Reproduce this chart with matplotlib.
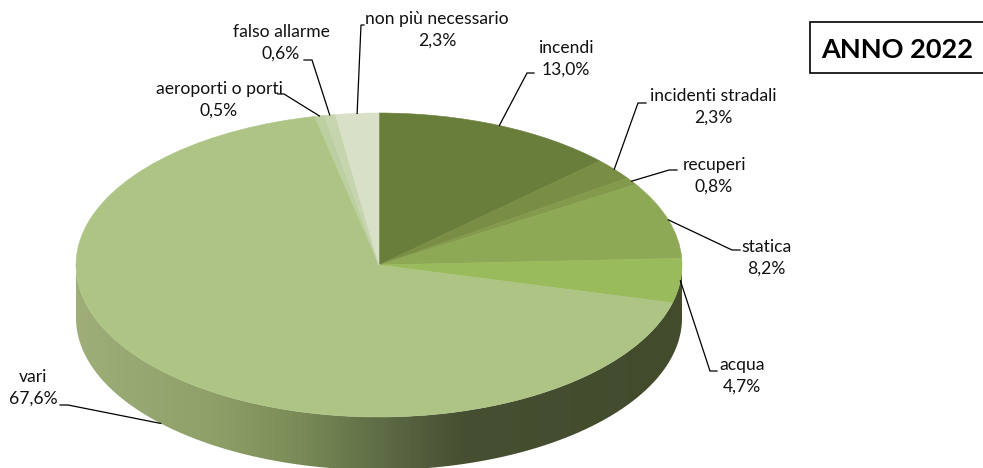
import numpy as np
import matplotlib
matplotlib.use('Agg')
import matplotlib.pyplot as plt
from matplotlib.patches import Polygon, Rectangle
from matplotlib.colors import LinearSegmentedColormap

plt.rcParams['font.family'] = ['Lato', 'DejaVu Sans']

# Data
categories = ['incendi', 'incidenti stradali', 'recuperi', 'statica', 'acqua', 'vari',
              'aeroporti o porti', 'falso allarme', 'non più necessario']
values = [13.0, 2.3, 0.8, 8.2, 4.7, 67.6, 0.5, 0.6, 2.3]
value_labels = ['13,0%', '2,3%', '0,8%', '8,2%', '4,7%', '67,6%', '0,5%', '0,6%', '2,3%']
colors = ['#6a7e3b', '#7a8d45', '#83994b', '#8ea956', '#9abb5b', '#adc485',
          '#bbcfa0', '#c6d5ae', '#d8e1c8']

# Label placement in pixels (text centre, elbow of leader, end of leader)
label_x = [566, 713, 714, 766, 742, 33, 219, 281, 437]
label_y = [59, 107, 176, 258, 376, 388, 100, 43, 30]
elbow_x = [527, 638, 669, 732, 710, 68, 284, 312, 361]
elbow_y = [73, 103, 170, 250, 371, 405, 94, 60, 25]
end_x = [534, 646, 677, 740, 717, 60, 278, 304, 364]
end_y = [73, 103, 170, 250, 371, 405, 94, 60, 25]

# Pie geometry in pixels
W, H = 983, 468
cx, cy = 379, 265
rx, ry = 303, 152
depth = 53

fig = plt.figure(figsize=(W / 100, H / 100), dpi=100)

# Base axes, works in image pixels
ax = fig.add_axes([0, 0, 1, 1], zorder=1)
ax.set_xlim(0, W)
ax.set_ylim(H, 0)
ax.axis('off')

# Side wall of the disc, with the horizontal shading
t = np.linspace(np.pi, 0, 300)
xs = cx + rx * np.cos(t)
ys = cy + ry * np.sin(t)
wall = np.column_stack([np.r_[xs, xs[::-1]], np.r_[ys + depth, ys[::-1]]])
clip = Polygon(wall, closed=True, transform=ax.transData, facecolor='none', edgecolor='none')
ax.add_patch(clip)
shade = LinearSegmentedColormap.from_list('wall', [
    (0.00, '#9fae79'), (0.22, '#8fa069'), (0.35, '#7d8e5a'), (0.44, '#6b7b4d'),
    (0.55, '#566140'), (0.64, '#464f31'), (1.00, '#434b2d')])
im = ax.imshow(np.linspace(0, 1, 400).reshape(1, -1), cmap=shade, aspect='auto',
               extent=(cx - rx, cx + rx, cy + ry + depth, cy), zorder=1)
im.set_clip_path(clip)
ax.set_xlim(0, W)
ax.set_ylim(H, 0)

# Top of the disc: a normal pie stretched into an ellipse
ax_pie = fig.add_axes([(cx - rx) / W, 1 - (cy + ry) / H, 2 * rx / W, 2 * ry / H], zorder=2)
wedges, _ = ax_pie.pie(values, colors=colors, startangle=90, counterclock=False, radius=1)
for w in wedges:
    w.set_edgecolor(w.get_facecolor())
    w.set_linewidth(0.4)
ax_pie.set_aspect('auto')
ax_pie.set_xlim(-1, 1)
ax_pie.set_ylim(-1, 1)
ax_pie.patch.set_alpha(0)

# Text and leader lines go above everything
ax_top = fig.add_axes([0, 0, 1, 1], zorder=3)
ax_top.set_xlim(0, W)
ax_top.set_ylim(H, 0)
ax_top.axis('off')

cum = np.cumsum(values)
for i, name in enumerate(categories):
    mid = np.radians((cum[i] - values[i] / 2) * 3.6)
    ax_x = cx + rx * np.sin(mid)
    ax_y = cy - ry * np.cos(mid)
    if name == 'vari':
        ax_y += depth   # this one starts from the lower rim
    ax_top.plot([ax_x, elbow_x[i], end_x[i]], [ax_y, elbow_y[i], end_y[i]],
                color='black', lw=0.9, solid_joinstyle='miter')
    ax_top.text(label_x[i], label_y[i], name + '\n' + value_labels[i], ha='center', va='center',
                fontsize=12.6, color='#111111', linespacing=1.45)

# Year box
ax_top.add_patch(Rectangle((810, 22), 175, 51, facecolor='white', edgecolor='black', lw=1.2, clip_on=False))
ax_top.text(897, 50, 'ANNO 2022', ha='center', va='center', fontsize=19.5, fontweight='bold', color='black')

fig.savefig('out.png', dpi=100)
